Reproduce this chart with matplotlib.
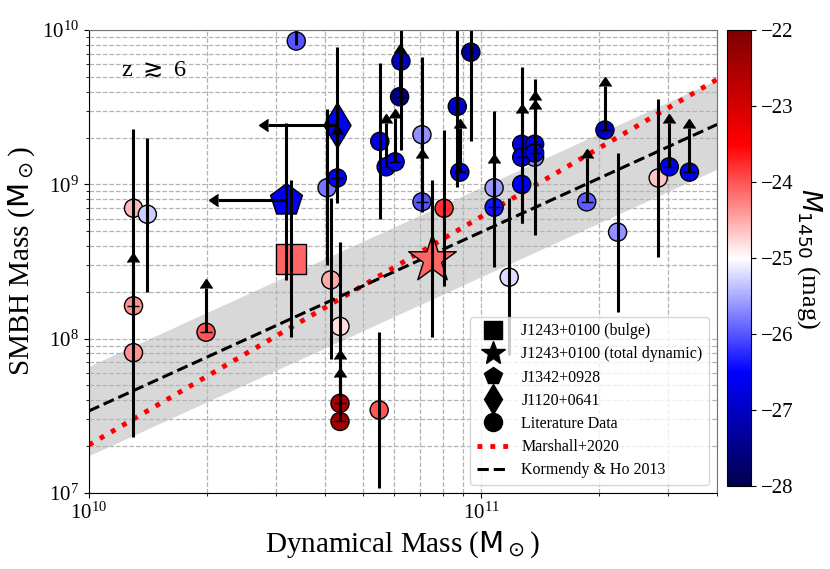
import numpy as np
import matplotlib
matplotlib.use("Agg")
import matplotlib.pyplot as plt
from matplotlib.lines import Line2D

plt.rcParams["font.family"] = "serif"
plt.rcParams["font.serif"] = ["Liberation Serif", "DejaVu Serif"]

# literature quasars with measured errors
lit_x = [1.30e10, 1.30e10, 1.41e10, 4.05e10, 4.14e10, 4.37e10, 5.5e10, 5.52e10,
         6.25e10, 3.38e10, 7.07e10, 8.05e10, 8.7e10, 9.42e10, 1.08e11, 1.18e11,
         1.27e11, 1.27e11, 1.37e11, 2.23e11, 2.83e11]
lit_y = [7.0e8, 8.1e7, 6.4e8, 9.5e8, 2.4e8, 1.2e8, 3.44e7, 1.9e9,
         6.3e9, 8.5e9, 2.1e9, 7.0e8, 3.2e9, 7.2e9, 9.5e8, 2.5e8,
         1.82e9, 1.0e9, 1.5e9, 4.9e8, 1.1e9]
lit_ylo = [1.9e8, 2.3e7, 2.0e8, 3.0e8, 7.4e7, 3.4e7, 1.08e7, 6.0e8,
           1.67e9, 8.0e9, 6.6e8, 2.2e8, 9.6e8, 1.9e9, 2.9e8, 7.8e7,
           5.6e8, 5.6e8, 4.7e8, 1.49e8, 3.4e8]
lit_yhi = [2.3e9, 3.0e8, 2.0e9, 3.1e9, 8.1e8, 4.2e8, 1.1e8, 6.1e9,
           2.4e10, 1.3e10, 6.7e9, 2.25e9, 1.1e10, 2.6e10, 3.0e9, 8.1e8,
           5.8e9, 1.8e9, 4.8e9, 1.6e9, 3.6e9]
lit_m1450 = [-24.6, -24.35, -25.3, -25.8, -24.5, -24.8, -24.0, -26.75,
             -27.0, -26.0, -25.65, -23.8, -27.0, -27.3, -25.6, -25.2,
             -26.8, -26.55, -25.7, -25.65, -24.65]

# literature lower limits on the BH mass
lim_x = [1.30e10, 1.99e10, 4.37e10, 4.37e10, 4.3e10, 5.73e10, 6.04e10, 6.2e10,
         7.07e10, 8.83e10, 1.08e11, 1.27e11, 1.37e11, 1.37e11, 1.86e11, 2.07e11,
         3.02e11, 3.4e11]
lim_y = [1.63e8, 1.1e8, 3.8e7, 2.9e7, 1.1e9, 1.3e9, 1.4e9, 3.7e9,
         7.7e8, 1.2e9, 7.1e8, 1.5e9, 1.82e9, 1.6e9, 7.7e8, 2.25e9,
         1.3e9, 1.2e9]
lim_m1450 = [-24.35, -24.0, -22.5, -22.4, -26.5, -26.55, -26.55, -27.5,
             -26.0, -26.6, -26.4, -26.7, -26.7, -26.7, -25.95, -27.0,
             -26.65, -26.65]

# J1243+0100
j1243_bulge_x, j1243_tot_x = 3.27e10, 7.5e10
j1243_y, j1243_ylo, j1243_yhi = 3.3e8, 1.02e8, 1.07e9
j1243_m1450 = -24.1
# J1342+0928 (upper limit on dynamical mass)
j1342_x, j1342_xlim, j1342_y, j1342_ylo, j1342_yhi = 3.18e10, 2.13e10, 7.9e8, 2.4e8, 2.5e9
j1342_m1450 = -26.6
# J1120+0641 (upper limit on dynamical mass)
j1120_x, j1120_xlim, j1120_y, j1120_ylo, j1120_yhi = 4.3e10, 2.86e10, 2.42e9, 7.6e8, 7.8e9
j1120_m1450 = -26.6

# local relations
kh13_norm, kh13_slope, kh13_scatter = 0.49e9, 1.16, 0.29
m20_norm, m20_slope = 2.04e7, 1.48

cmap = plt.get_cmap("seismic")
norm = matplotlib.colors.Normalize(vmin=-28, vmax=-22)

fig = plt.figure(figsize=(8.3, 5.69), dpi=100)
ax = fig.add_axes([0.107, 0.134, 0.757, 0.813])
cax = fig.add_axes([0.876, 0.145, 0.029, 0.802])

xx = np.logspace(10, np.log10(4e11), 100)
kh = kh13_norm * (xx / 1e11) ** kh13_slope
ax.fill_between(xx, kh * 10 ** -kh13_scatter, kh * 10 ** kh13_scatter,
                color="gray", alpha=0.3, lw=0, zorder=0.5)
ax.plot(xx, m20_norm * (xx / 1e10) ** m20_slope, ":", color="red", lw=3.5, zorder=1.2)
ax.plot(xx, kh, "--", color="black", lw=2.2, zorder=1.2)

sc_kw = dict(cmap=cmap, norm=norm, edgecolors="black", linewidths=1, zorder=1.5)
ax.scatter(lit_x, lit_y, c=lit_m1450, s=170, marker="o", **sc_kw)
ax.scatter(lim_x, lim_y, c=lim_m1450, s=170, marker="o", **sc_kw)
ax.scatter([j1243_bulge_x], [j1243_y], c=[j1243_m1450], s=480, marker="s", **sc_kw)
ax.scatter([j1243_tot_x], [j1243_y], c=[j1243_m1450], s=1300, marker="*", **sc_kw)
ax.scatter([j1342_x], [j1342_y], c=[j1342_m1450], s=580, marker="p", **sc_kw)
sc = ax.scatter([j1120_x], [j1120_y], c=[j1120_m1450], s=530, marker="d", **sc_kw)

eb_kw = dict(fmt="none", ecolor="black", elinewidth=2.2, zorder=2)


def blacken(container):
    # arrow heads of limits otherwise pick up the default colour cycle
    for cap in container[1]:
        cap.set_color("black")
        cap.set_markerfacecolor("black")
        cap.set_markeredgecolor("black")


lit_y = np.array(lit_y)
ax.errorbar(lit_x, lit_y, yerr=[lit_y - np.array(lit_ylo), np.array(lit_yhi) - lit_y],
            capsize=0, **eb_kw)
lim_y = np.array(lim_y)
blacken(ax.errorbar(lim_x, lim_y, yerr=lim_y * 0.93, lolims=True, capsize=4.5, **eb_kw))

sx = [j1243_bulge_x, j1243_tot_x, j1342_x, j1120_x]
sy = np.array([j1243_y, j1243_y, j1342_y, j1120_y])
slo = np.array([j1243_ylo, j1243_ylo, j1342_ylo, j1120_ylo])
shi = np.array([j1243_yhi, j1243_yhi, j1342_yhi, j1120_yhi])
ax.errorbar(sx, sy, yerr=[sy - slo, shi - sy], capsize=0, **eb_kw)
blacken(ax.errorbar([j1342_x, j1120_x], [j1342_y, j1120_y],
                    xerr=[j1342_x - j1342_xlim, j1120_x - j1120_xlim],
                    xuplims=True, capsize=4.5, **eb_kw))

ax.set_xscale("log")
ax.set_yscale("log")
ax.set_xlim(1e10, 4e11)
ax.set_ylim(1e7, 1e10)
ax.grid(True, which="both", ls="--", color="0.7", lw=0.9)
ax.set_axisbelow(True)
ax.tick_params(labelsize=15)
for side in ["top", "right"]:
    ax.spines[side].set_color("0.45")

ax.set_xlabel(r"Dynamical Mass ($\mathrm{M}_\odot$)", fontsize=21)
ax.set_ylabel(r"SMBH Mass ($\mathrm{M}_\odot$)", fontsize=21)
ax.text(0.052, 0.914, r"z $\gtrsim$ 6", transform=ax.transAxes, fontsize=17.5,
        ha="left", va="center")

handles = [
    Line2D([], [], ls="none", marker="s", color="black", ms=13),
    Line2D([], [], ls="none", marker="*", color="black", ms=18),
    Line2D([], [], ls="none", marker="p", color="black", ms=13),
    Line2D([], [], ls="none", marker="d", color="black", ms=15),
    Line2D([], [], ls="none", marker="o", color="black", ms=13),
    Line2D([], [], ls=":", color="red", lw=3.5),
    Line2D([], [], ls="--", color="black", lw=2.2),
]
labels = ["J1243+0100 (bulge)", "J1243+0100 (total dynamic)", "J1342+0928",
          "J1120+0641", "Literature Data", "Marshall+2020", "Kormendy & Ho 2013"]
ax.legend(handles, labels, loc="lower right", fontsize=11.5, labelspacing=0.45)

cb = fig.colorbar(sc, cax=cax)
cb.ax.tick_params(labelsize=15)
cb.set_label(r"$M_{1450}$ (mag)", fontsize=19, rotation=270, labelpad=22)

fig.savefig("out.png", dpi=100)
